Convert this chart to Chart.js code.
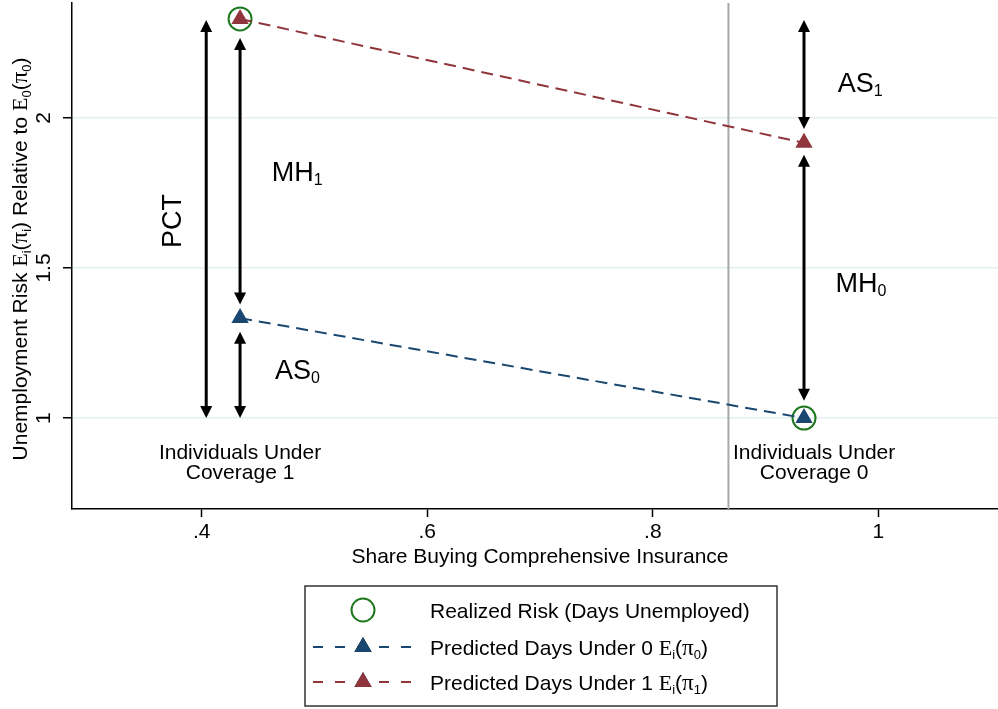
<!DOCTYPE html>
<html>
<head>
<meta charset="utf-8">
<script src="https://cdn.jsdelivr.net/npm/chart.js@4.4.1/dist/chart.umd.min.js"></script>
<style>
  html, body { margin: 0; padding: 0; background: #fff; }
  #wrap { width: 998px; height: 709px; }
</style>
</head>
<body>
<div id="wrap"><canvas id="chart" width="998" height="709"></canvas></div>
<script>
// axis ticks
const xTicks = [0.4, 0.6, 0.8, 1];
const xTickLabels = ['.4', '.6', '.8', '1'];
const yTicks = [1, 1.5, 2];
const yTickLabels = ['1', '1.5', '2'];

// the two groups (share buying comprehensive insurance)
const shareBuying = [0.434, 0.934];
const realizedRisk = [2.33, 1.0];
const predictedUnder0 = [1.333, 1.0];
const predictedUnder1 = [2.33, 1.917];
const cutoffShare = 0.867;

// double headed arrows: x, from, to
const arrowX = [0.404, 0.434, 0.434, 0.934, 0.934];
const arrowFrom = [1.0, 1.378, 1.0, 1.963, 1.058];
const arrowTo = [2.326, 2.266, 1.288, 2.326, 1.877];

// arrow labels
const arrowLabel = ['PCT', 'MH', 'AS', 'AS', 'MH'];
const arrowLabelSub = ['', '1', '0', '1', '0'];
const arrowLabelX = [0.374, 0.462, 0.465, 0.964, 0.962];
const arrowLabelY = [1.657, 1.822, 1.163, 2.118, 1.453];

// group labels
const groupLines = [['Individuals Under', 'Coverage 1'], ['Individuals Under', 'Coverage 0']];
const groupX = [0.434, 0.943];
const groupY = [0.884, 0.817];

const SANS = '"Liberation Sans", Arial, sans-serif';
const SERIF = '"Liberation Serif", "Times New Roman", serif';
const blue = 'rgb(26,71,111)';
const red = 'rgb(144,53,59)';
const green = 'rgb(30,120,30)';

// draw text made of pieces, some of them subscripts
function richWidth(ctx, parts) {
    let w = 0;
    parts.forEach(p => {
        ctx.font = p.font;
        w += ctx.measureText(p.t).width;
    });
    return w;
}

function drawRich(ctx, parts, x, y, align) {
    let w = richWidth(ctx, parts);
    let cx = x;
    if (align === 'center') cx = x - w / 2;
    ctx.textBaseline = 'alphabetic';
    ctx.textAlign = 'left';
    parts.forEach(p => {
        ctx.font = p.font;
        ctx.fillText(p.t, cx, y + (p.sub ? p.shift : 0));
        cx += ctx.measureText(p.t).width;
    });
}

function sans(size) { return size + 'px ' + SANS; }
function serif(size) { return size + 'px ' + SERIF; }

function ePi(size, a, b) {
    // E_a(pi_b)
    const s = Math.round(size * 0.62);
    return [
        { t: 'E', font: serif(size + 1) },
        { t: a, font: sans(s), sub: true, shift: 4 },
        { t: '(', font: sans(size) },
        { t: 'π', font: serif(size + 2) },
        { t: b, font: sans(s), sub: true, shift: 4 },
        { t: ')', font: sans(size) }
    ];
}

const annotations = {
    id: 'annotations',
    beforeDatasetsDraw(chart) {
        const ctx = chart.ctx;
        const xs = chart.scales.x;
        const px = xs.getPixelForValue(cutoffShare);
        ctx.save();
        ctx.strokeStyle = '#a9a9a9';
        ctx.lineWidth = 2;
        ctx.beginPath();
        ctx.moveTo(px, chart.chartArea.top);
        ctx.lineTo(px, chart.chartArea.bottom);
        ctx.stroke();
        ctx.restore();
    },
    afterDatasetsDraw(chart) {
        const ctx = chart.ctx;
        const xs = chart.scales.x, ys = chart.scales.y;
        ctx.save();
        ctx.fillStyle = '#000';
        ctx.strokeStyle = '#000';
        const hl = 12, hw = 6;
        arrowX.forEach((xv, i) => {
            const px = xs.getPixelForValue(xv);
            const yb = ys.getPixelForValue(arrowFrom[i]);
            const yt = ys.getPixelForValue(arrowTo[i]);
            ctx.lineWidth = 3;
            ctx.beginPath();
            ctx.moveTo(px, yb - hl + 1);
            ctx.lineTo(px, yt + hl - 1);
            ctx.stroke();
            ctx.beginPath();
            ctx.moveTo(px, yt);
            ctx.lineTo(px - hw, yt + hl);
            ctx.lineTo(px + hw, yt + hl);
            ctx.closePath();
            ctx.fill();
            ctx.beginPath();
            ctx.moveTo(px, yb);
            ctx.lineTo(px - hw, yb - hl);
            ctx.lineTo(px + hw, yb - hl);
            ctx.closePath();
            ctx.fill();
        });

        // arrow labels
        arrowLabel.forEach((t, i) => {
            const px = xs.getPixelForValue(arrowLabelX[i]);
            const py = ys.getPixelForValue(arrowLabelY[i]);
            const parts = [{ t: t, font: sans(27) }];
            if (arrowLabelSub[i]) parts.push({ t: arrowLabelSub[i], font: sans(16), sub: true, shift: 4 });
            if (t === 'PCT') {
                ctx.save();
                ctx.translate(px + 9, py);
                ctx.rotate(-Math.PI / 2);
                drawRich(ctx, parts, 0, 0, 'center');
                ctx.restore();
            } else {
                drawRich(ctx, parts, px, py + 9.5, 'left');
            }
        });

        // group labels
        ctx.font = sans(21);
        ctx.textAlign = 'center';
        ctx.textBaseline = 'middle';
        groupLines.forEach((lines, i) => {
            const px = xs.getPixelForValue(groupX[i]);
            lines.forEach((l, j) => {
                ctx.fillText(l, px, ys.getPixelForValue(groupY[j]));
            });
        });
        ctx.restore();
    },
    afterDraw(chart) {
        const ctx = chart.ctx;
        const xs = chart.scales.x, ys = chart.scales.y;
        ctx.save();
        ctx.fillStyle = '#000';
        ctx.font = sans(21);
        // x tick labels
        ctx.textAlign = 'center';
        ctx.textBaseline = 'middle';
        xTicks.forEach((v, i) => {
            ctx.fillText(xTickLabels[i], xs.getPixelForValue(v), 532);
        });
        // y tick labels (rotated)
        yTicks.forEach((v, i) => {
            ctx.save();
            ctx.translate(44, ys.getPixelForValue(v));
            ctx.rotate(-Math.PI / 2);
            ctx.fillText(yTickLabels[i], 0, 0);
            ctx.restore();
        });
        // x title
        ctx.fillText('Share Buying Comprehensive Insurance', 540, 557);
        // y title
        ctx.save();
        ctx.translate(27, 259);
        ctx.rotate(-Math.PI / 2);
        const yt = [{ t: 'Unemployment Risk ', font: sans(21) }]
            .concat(ePi(21, 'i', 'i'))
            .concat([{ t: ' Relative to ', font: sans(21) }])
            .concat(ePi(21, '0', '0'));
        drawRich(ctx, yt, 0, 0, 'center');
        ctx.restore();

        // legend
        const L = { x: 305, y: 586, w: 472, h: 120 };
        ctx.lineWidth = 1.5;
        ctx.strokeStyle = '#333';
        ctx.strokeRect(L.x, L.y, L.w, L.h);
        const rows = [610, 647, 682];
        const mx = 363, tx = 430;
        const ds = chart.data.datasets;
        // circle row
        ctx.strokeStyle = ds[2].borderColor;
        ctx.lineWidth = ds[2].pointBorderWidth;
        ctx.beginPath();
        ctx.arc(mx, rows[0], ds[2].pointRadius, 0, Math.PI * 2);
        ctx.stroke();
        // line rows
        [0, 1].forEach(k => {
            const d = ds[k], y = rows[k + 1];
            ctx.strokeStyle = d.borderColor;
            ctx.lineWidth = d.borderWidth;
            ctx.setLineDash([10, 12]);
            ctx.beginPath();
            ctx.moveTo(313, y);
            ctx.lineTo(413, y);
            ctx.stroke();
            ctx.setLineDash([]);
            Chart.helpers.drawPoint(ctx, { pointStyle: 'triangle', radius: d.pointRadius, borderWidth: 0, rotation: 0 }, mx, y);
            ctx.fillStyle = d.backgroundColor;
            ctx.fill();
        });
        ctx.fillStyle = '#000';
        drawRich(ctx, [{ t: 'Realized Risk (Days Unemployed)', font: sans(21) }], tx, rows[0] + 7.5, 'left');
        drawRich(ctx, [{ t: 'Predicted Days Under 0 ', font: sans(21) }].concat(ePi(21, 'i', '0')), tx, rows[1] + 7.5, 'left');
        drawRich(ctx, [{ t: 'Predicted Days Under 1 ', font: sans(21) }].concat(ePi(21, 'i', '1')), tx, rows[2] + 7.5, 'left');
        ctx.restore();
    }
};

new Chart(document.getElementById('chart'), {
    type: 'scatter',
    data: {
        datasets: [
            {
                label: 'Predicted Days Under 0',
                data: shareBuying.map((x, i) => ({ x: x, y: predictedUnder0[i] })),
                showLine: true,
                borderColor: blue,
                borderWidth: 2,
                borderDash: [12, 7],
                backgroundColor: blue,
                pointStyle: 'triangle',
                pointRadius: 10,
                pointBorderWidth: 0,
                clip: false,
                order: 1
            },
            {
                label: 'Predicted Days Under 1',
                data: shareBuying.map((x, i) => ({ x: x, y: predictedUnder1[i] })),
                showLine: true,
                borderColor: red,
                borderWidth: 2,
                borderDash: [12, 7],
                backgroundColor: red,
                pointStyle: 'triangle',
                pointRadius: 10,
                pointBorderWidth: 0,
                clip: false,
                order: 2
            },
            {
                label: 'Realized Risk (Days Unemployed)',
                data: shareBuying.map((x, i) => ({ x: x, y: realizedRisk[i] })),
                showLine: false,
                borderColor: green,
                backgroundColor: 'rgba(0,0,0,0)',
                pointStyle: 'circle',
                pointRadius: 11.5,
                pointBorderWidth: 2,
                clip: false,
                order: 3
            }
        ]
    },
    options: {
        responsive: false,
        animation: false,
        layout: { autoPadding: false, padding: { top: 3, right: 0, left: 0, bottom: 0 } },
        plugins: { legend: { display: false }, tooltip: { enabled: false } },
        scales: {
            x: {
                type: 'linear',
                min: 0.285,
                max: 1.106,
                afterBuildTicks: s => { s.ticks = xTicks.map(v => ({ value: v })); },
                afterFit: s => { s.height = 200; },
                ticks: { display: false },
                grid: { drawOnChartArea: false, tickLength: 8, tickColor: '#000', tickWidth: 1.5 },
                border: { color: '#000', width: 1.5 }
            },
            y: {
                type: 'linear',
                min: 0.697,
                max: 2.383,
                afterBuildTicks: s => { s.ticks = yTicks.map(v => ({ value: v })); },
                afterFit: s => { s.width = 72; },
                ticks: { display: false },
                grid: { color: '#e4eef0', lineWidth: 1.5, tickLength: 9, tickColor: '#000', tickWidth: 1.5 },
                border: { color: '#000', width: 1.5 }
            }
        }
    },
    plugins: [annotations]
});
</script>
</body>
</html>
